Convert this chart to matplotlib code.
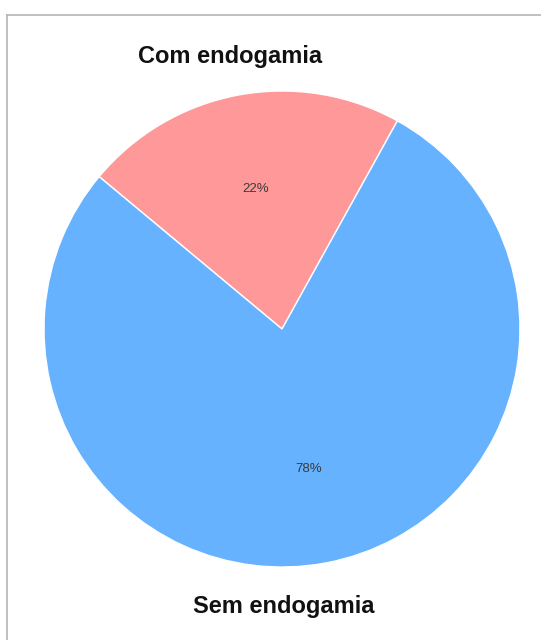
import matplotlib
matplotlib.use("Agg")
from matplotlib import pyplot as plt
from matplotlib.lines import Line2D

grupos = ["Com endogamia", "Sem endogamia"]
percentuais = [22, 78]
cores = ["#FF9999", "#66B2FF"]

plt.rcParams["font.family"] = ["Liberation Sans", "DejaVu Sans"]

fig = plt.figure(figsize=(5.41, 6.4), dpi=100)
ax = fig.add_axes([44 / 541, 73 / 640, 476 / 541, 476 / 640])

fatias, textos, pcts = ax.pie(
    percentuais,
    colors=cores,
    startangle=61,
    autopct="%1.0f%%",
    pctdistance=0.6,
    wedgeprops={"edgecolor": "white", "linewidth": 1},
    textprops={"fontsize": 9.5, "color": "#3a3a3a"},
)
ax.set_xlim(-1, 1)
ax.set_ylim(-1, 1)
ax.set_aspect("equal")
ax.axis("off")

# rotulos das categorias acima e abaixo da pizza
ax.text(-0.218, 1.145, grupos[0], ha="center", va="center",
        fontsize=17, fontweight="bold", color="#111111")
ax.text(0.008, -1.165, grupos[1], ha="center", va="center",
        fontsize=17, fontweight="bold", color="#111111")

# moldura cinza no topo e na esquerda
fig.add_artist(Line2D([7 / 541, 7 / 541], [0, 1 - 15 / 640],
                      transform=fig.transFigure, color="#b5b5b5", lw=1.2))
fig.add_artist(Line2D([7 / 541, 1], [1 - 15 / 640, 1 - 15 / 640],
                      transform=fig.transFigure, color="#b5b5b5", lw=1.2))

fig.savefig("out.png", dpi=100)
